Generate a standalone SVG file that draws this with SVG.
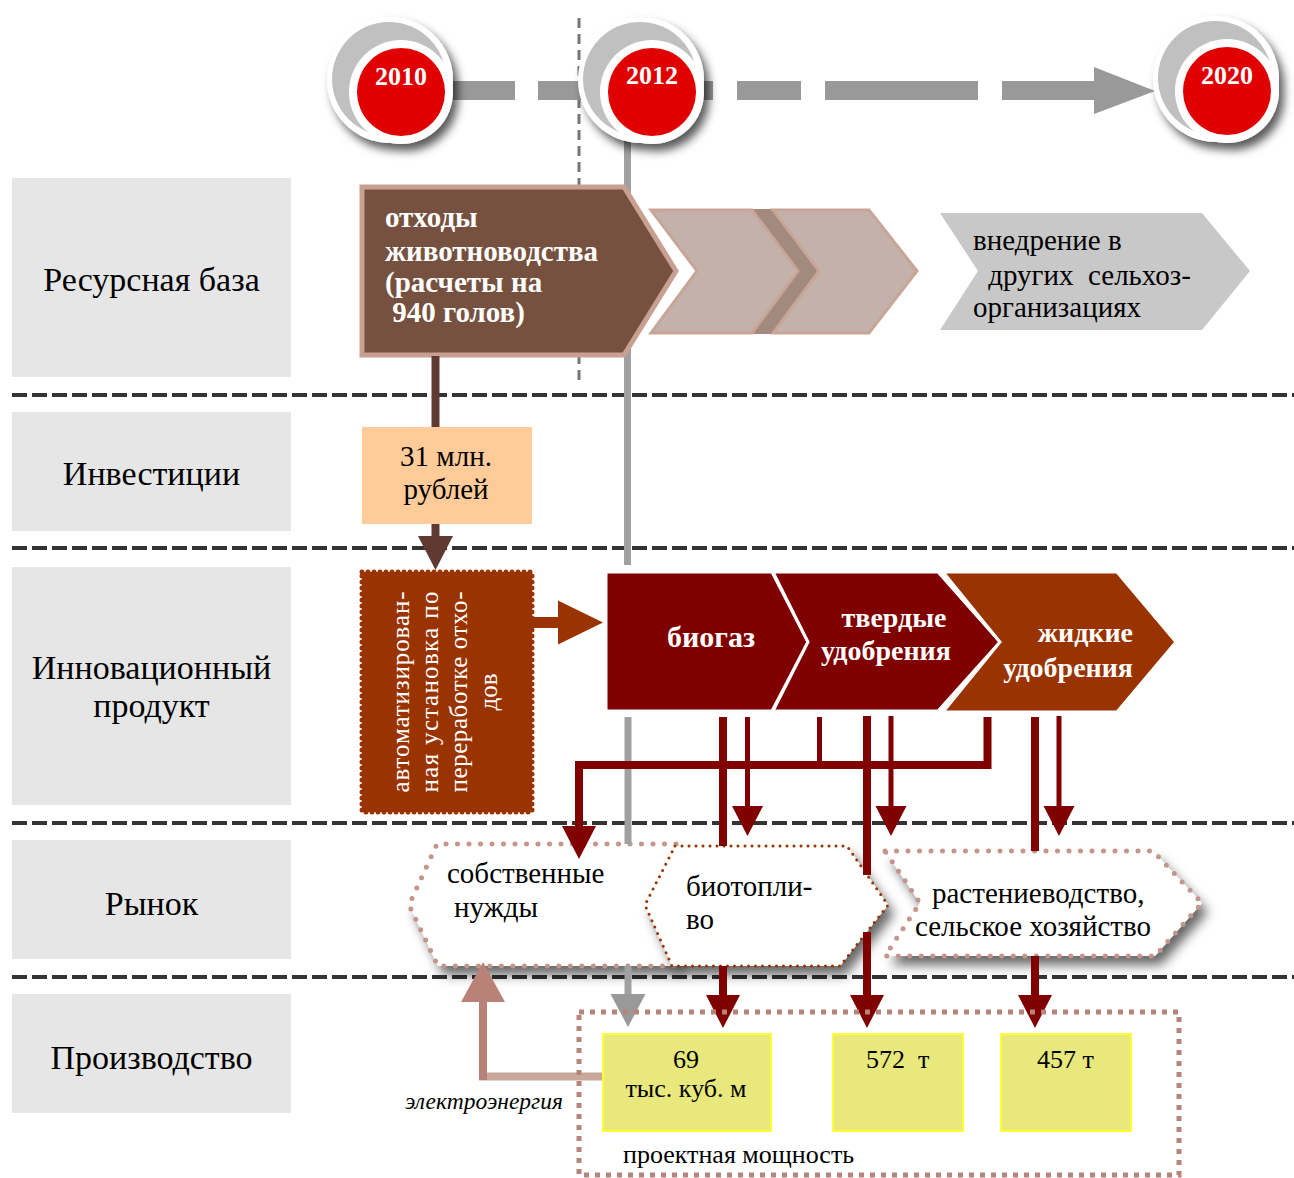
<svg xmlns="http://www.w3.org/2000/svg" xmlns:xlink="http://www.w3.org/1999/xlink" width="1294" height="1178" viewBox="0 0 1294 1178">
<defs>
<style>
.lbl{fill:#e6e6e6}
.lt{font-family:"Liberation Serif","Times New Roman",serif;font-size:34px;fill:#000;text-anchor:middle}
.sep{stroke:#333;stroke-width:4;stroke-dasharray:15 5;fill:none}
.yr{font-family:"Liberation Serif","Times New Roman",serif;font-weight:bold;font-size:26px;fill:#fff;text-anchor:middle}
.bar{fill:#999}
.wt{font-family:"Liberation Serif","Times New Roman",serif;font-weight:bold;fill:#fff}
.tx{font-family:"Liberation Serif","Times New Roman",serif;fill:#000}
.red{stroke:#800000;fill:none}
.thick{stroke-width:8}
.thin{stroke-width:5}
.mkt{fill:#fff;filter:url(#bsh)}
.dotp{fill:none;stroke:#c4958a;stroke-width:5;stroke-dasharray:0 11.5;stroke-linecap:round;stroke-linejoin:round}
.doto{fill:none;stroke:#993300;stroke-width:3;stroke-dasharray:0 7;stroke-linecap:round;stroke-linejoin:round}
.yel{fill:#e8e87c;stroke:#ffff33;stroke-width:2}
.lc{fill:#c3b2aa;stroke:#c9a598;stroke-width:3}
</style>
<filter id="csh" x="-30%" y="-30%" width="170%" height="170%">
<feDropShadow dx="5" dy="7" stdDeviation="5" flood-color="#000" flood-opacity="0.65"/>
</filter>
<filter id="bsh" x="-20%" y="-30%" width="140%" height="170%">
<feDropShadow dx="6" dy="9" stdDeviation="6" flood-color="#000" flood-opacity="0.6"/>
</filter>
<!-- year disc, red centre at origin -->
<g id="disc">
<circle cx="-11" cy="-12" r="63" fill="#fff"/>
<circle cx="-12" cy="-13" r="57" fill="#c0c0c0"/>
<circle r="52" fill="#fff"/>
<circle r="44" fill="#e00000"/>
</g>
<marker id="ahS" markerUnits="userSpaceOnUse" viewBox="0 -16 30 32" refX="0" refY="0" markerWidth="30" markerHeight="32" orient="auto">
<path d="M0,-15.5L30,0L0,15.5z" fill="#800000"/>
</marker>
<marker id="ahL" markerUnits="userSpaceOnUse" viewBox="0 -18 33 36" refX="0" refY="0" markerWidth="33" markerHeight="36" orient="auto">
<path d="M0,-17L33,0L0,17z" fill="#800000"/>
</marker>
<marker id="ahG" markerUnits="userSpaceOnUse" viewBox="0 -18 33 36" refX="0" refY="0" markerWidth="33" markerHeight="36" orient="auto">
<path d="M0,-17.5L33,0L0,17.5z" fill="#999"/>
</marker>
<marker id="ahB" markerUnits="userSpaceOnUse" viewBox="0 -18 34 36" refX="0" refY="0" markerWidth="34" markerHeight="36" orient="auto">
<path d="M0,-17.5L34,0L0,17.5z" fill="#5e3a33"/>
</marker>
<marker id="ahO" markerUnits="userSpaceOnUse" viewBox="0 -23 45 46" refX="0" refY="0" markerWidth="45" markerHeight="46" orient="auto">
<path d="M0,-22L45,0L0,22z" fill="#993300"/>
</marker>
<marker id="ahP" markerUnits="userSpaceOnUse" viewBox="0 -23 40 46" refX="0" refY="0" markerWidth="40" markerHeight="46" orient="auto">
<path d="M0,-22L40,0L0,22z" fill="#b98278"/>
</marker>
</defs>

<rect width="1294" height="1178" fill="#fff"/>

<!-- row labels -->
<g id="row-labels">
<rect class="lbl" x="12" y="178" width="279" height="199"/>
<rect class="lbl" x="12" y="412" width="279" height="119"/>
<rect class="lbl" x="12" y="567" width="279" height="238"/>
<rect class="lbl" x="12" y="840" width="279" height="119"/>
<rect class="lbl" x="12" y="994" width="279" height="119"/>
<text class="lt" x="151.5" y="291">Ресурсная база</text>
<text class="lt" x="151.5" y="485">Инвестиции</text>
<text class="lt" x="151.5" y="679">Инновационный</text>
<text class="lt" x="151.5" y="717">продукт</text>
<text class="lt" x="151.5" y="915">Рынок</text>
<text class="lt" x="151.5" y="1069">Производство</text>
</g>

<!-- row separators -->
<g id="separators">
<line class="sep" x1="12" y1="395" x2="1294" y2="395"/>
<line class="sep" x1="12" y1="548" x2="1294" y2="548"/>
<line class="sep" x1="12" y1="823" x2="1294" y2="823"/>
<line class="sep" x1="12" y1="977" x2="1294" y2="977"/>
</g>

<!-- timeline -->
<g id="timeline">
<line x1="579" y1="18" x2="579" y2="380" stroke="#777" stroke-width="3" stroke-dasharray="10 6"/>
<rect class="bar" x="440" y="81" width="75" height="19"/>
<rect class="bar" x="538" y="81" width="62" height="19"/>
<rect class="bar" x="660" y="81" width="53" height="19"/>
<rect class="bar" x="737" y="81" width="64" height="19"/>
<rect class="bar" x="825" y="81" width="153" height="19"/>
<rect class="bar" x="1002" y="81" width="93" height="19"/>
<polygon class="bar" points="1094,67 1155,91 1094,114"/>
<line x1="627.5" y1="120" x2="627.5" y2="565" stroke="#a0a0a0" stroke-width="7"/>
</g>

<g id="year-2010">
<use xlink:href="#disc" href="#disc" transform="translate(401,92)" filter="url(#csh)"/>
<text class="yr" x="401" y="85">2010</text>
</g>
<g id="year-2012">
<use xlink:href="#disc" href="#disc" transform="translate(652,92)" filter="url(#csh)"/>
<text class="yr" x="652" y="84">2012</text>
</g>
<g id="year-2020">
<use xlink:href="#disc" href="#disc" transform="translate(1227,91)" filter="url(#csh)"/>
<text class="yr" x="1227" y="84">2020</text>
</g>

<!-- resource base -->
<g id="waste">
<polygon points="362,187 624,187 676,271 624,355 362,355" fill="#76513f" stroke="#c7a092" stroke-width="5"/>
<text class="wt" font-size="29" x="385" y="227">отходы</text>
<text class="wt" font-size="29" x="385" y="261">животноводства</text>
<text class="wt" font-size="29" x="385" y="292">(расчеты на</text>
<text class="wt" font-size="29" x="385" y="322" xml:space="preserve"> 940 голов)</text>
</g>
<g id="stage-chevrons">
<polygon points="748,210 775,210 821,271 775,333 748,333 794,271" fill="#a38a7e" stroke="#a8897c" stroke-width="2"/>
<polygon class="lc" points="651,210 752,210 798,271 752,333 651,333 697,271"/>
<polygon class="lc" points="773,210 869,210 917,271 869,333 773,333 819,271"/>
</g>
<g id="rollout">
<polygon points="940,213 1202,213 1250,271 1202,330 940,330 978,271" fill="#c8c8c8"/>
<text class="tx" font-size="29" x="973" y="250">внедрение в</text>
<text class="tx" font-size="29" x="981" y="285" xml:space="preserve"> других  сельхоз-</text>
<text class="tx" font-size="29" x="973" y="317">организациях</text>
</g>

<!-- investments -->
<g id="investment">
<rect x="362" y="427" width="170" height="97" fill="#ffcc99"/>
<text class="tx" font-size="29" x="446" y="466" text-anchor="middle">31 млн.</text>
<text class="tx" font-size="29" x="446" y="499" text-anchor="middle">рублей</text>
</g>

<!-- innovative product -->
<g id="plant">
<rect x="362" y="572" width="170" height="240" fill="#993300" stroke="#993300" stroke-width="5" stroke-dasharray="0 6" stroke-linecap="round"/>
<g font-family="'Liberation Serif','Times New Roman',serif" font-size="25" fill="#fff" text-anchor="middle">
<text transform="translate(409,692) rotate(-90)" textLength="201" lengthAdjust="spacing">автоматизирован-</text>
<text transform="translate(438,692) rotate(-90)" textLength="201" lengthAdjust="spacing">ная установка по</text>
<text transform="translate(467,692) rotate(-90)" textLength="201" lengthAdjust="spacing">переработке отхо-</text>
<text transform="translate(497,692) rotate(-90)">дов</text>
</g>
</g>
<g id="biogas">
<polygon points="606,572 772,572 808,642 772,711 606,711" fill="#800000" stroke="#fff" stroke-width="3"/>
<text class="wt" font-size="30" x="711" y="647" text-anchor="middle">биогаз</text>
</g>
<g id="solid-fertilizer">
<polygon points="773,572 938,572 1000,642 938,711 773,711 808,642" fill="#800000" stroke="#fff" stroke-width="3"/>
<text class="wt" font-size="28" x="894" y="627" text-anchor="middle">твердые</text>
<text class="wt" font-size="28" x="886" y="660" text-anchor="middle">удобрения</text>
</g>
<g id="liquid-fertilizer">
<polygon points="943,572 1117,572 1176,642 1117,712 943,712 1000,642" fill="#993300" stroke="#fff" stroke-width="3"/>
<text class="wt" font-size="28" x="1133" y="642" text-anchor="end">жидкие</text>
<text class="wt" font-size="28" x="1133" y="677" text-anchor="end">удобрения</text>
</g>

<!-- market -->
<g id="own-needs">
<polygon class="mkt" points="437,844 676,844 676,966 438,966 409,905"/>
<polyline class="dotp" points="676,844 437,844 409,905 438,966 676,966"/>
<text class="tx" font-size="29" x="447" y="883">собственные</text>
<text class="tx" font-size="29" x="454" y="917">нужды</text>
</g>
<g id="biofuel">
<polygon class="mkt" points="675,846 847,846 888,905 840,966 672,966 645,905"/>
<polygon class="doto" points="675,846 847,846 888,905 840,966 672,966 645,905"/>
<text class="tx" font-size="29" x="686" y="896">биотопли-</text>
<text class="tx" font-size="29" x="686" y="929">во</text>
</g>
<g id="crop-farming">
<polygon class="mkt" points="885,851 1153,851 1202,903 1155,956 885,956 920,903"/>
<polygon class="dotp" points="885,851 1153,851 1202,903 1155,956 885,956 920,903"/>
<text class="tx" font-size="29" x="932" y="903">растениеводство,</text>
<text class="tx" font-size="29" x="915" y="936">сельское хозяйство</text>
</g>

<!-- connectors -->
<g id="connectors">
<line x1="435.5" y1="356" x2="435.5" y2="427" stroke="#5e3a33" stroke-width="8"/>
<line x1="435.5" y1="524" x2="435.5" y2="536" stroke="#5e3a33" stroke-width="8" marker-end="url(#ahB)"/>
<line x1="532" y1="622.5" x2="558" y2="622.5" stroke="#993300" stroke-width="11" marker-end="url(#ahO)"/>
<line x1="628" y1="717" x2="628" y2="844" stroke="#a0a0a0" stroke-width="7"/>
<line x1="628" y1="966" x2="628" y2="994" stroke="#a0a0a0" stroke-width="7" marker-end="url(#ahG)"/>
<line class="red thick" x1="723" y1="717" x2="723" y2="846"/>
<line class="red thick" x1="723" y1="966" x2="723" y2="995" marker-end="url(#ahL)"/>
<line class="red thin" x1="747.5" y1="717" x2="747.5" y2="806" marker-end="url(#ahS)"/>
<line class="red thin" x1="819.5" y1="717" x2="819.5" y2="765"/>
<line class="red thick" x1="867" y1="716" x2="867" y2="875"/>
<line class="red thick" x1="867" y1="932" x2="867" y2="995" marker-end="url(#ahL)"/>
<line class="red thin" x1="891" y1="716" x2="891" y2="806" marker-end="url(#ahS)"/>
<path class="red thick" d="M987.5,717V765H579V826" marker-end="url(#ahL)"/>
<line class="red thick" x1="1035" y1="717" x2="1035" y2="851"/>
<line class="red thick" x1="1035" y1="956" x2="1035" y2="995" marker-end="url(#ahL)"/>
<line class="red thin" x1="1059" y1="716" x2="1059" y2="806" marker-end="url(#ahS)"/>
<line x1="603" y1="1076.5" x2="479" y2="1076.5" stroke="#c8a89a" stroke-width="8"/>
<line x1="483" y1="1080" x2="483" y2="1002" stroke="#b98278" stroke-width="8" marker-end="url(#ahP)"/>
</g>

<!-- production -->
<g id="capacity">
<rect x="579" y="1012" width="600" height="163" fill="none" stroke="#b5857a" stroke-width="5" stroke-dasharray="5 6"/>
<text class="tx" font-size="26" x="623" y="1163">проектная мощность</text>
</g>
<g id="out-biogas">
<rect class="yel" x="603" y="1034" width="168" height="97"/>
<text class="tx" font-size="26" x="686" y="1068" text-anchor="middle">69</text>
<text class="tx" font-size="26" x="686" y="1097" text-anchor="middle">тыс. куб. м</text>
</g>
<g id="out-solid">
<rect class="yel" x="833" y="1034" width="130" height="97"/>
<text class="tx" font-size="26" x="866" y="1068" xml:space="preserve">572  т</text>
</g>
<g id="out-liquid">
<rect class="yel" x="1001" y="1034" width="130" height="97"/>
<text class="tx" font-size="26" x="1037" y="1068">457 т</text>
</g>
<text class="tx" font-size="23.5" font-style="italic" x="405" y="1109">электроэнергия</text>
</svg>
